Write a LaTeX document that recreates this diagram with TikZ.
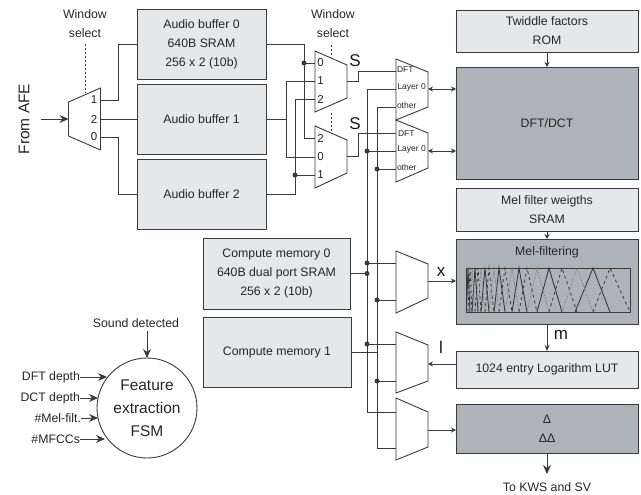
\documentclass[tikz,border=0pt]{standalone}
\usepackage{fontspec}
\setmainfont{Liberation Sans}
\usetikzlibrary{arrows.meta,calc}
\definecolor{lightfill}{HTML}{E6E7EA}
\definecolor{darkfill}{HTML}{AEB3BA}
\definecolor{edge}{HTML}{3A3A3A}
\tikzset{
  base/.style={draw=edge,line width=.9pt,inner sep=0pt,outer sep=0pt,align=center,font=\fontsize{12.3}{19}\selectfont,text=black!85},
  lightbox/.style={base,fill=lightfill},
  darkbox/.style={base,fill=darkfill},
  txt/.style={inner sep=0pt,outer sep=0pt,align=center,font=\fontsize{12.3}{19}\selectfont,text=black!85},
  port/.style={inner sep=0pt,outer sep=0pt,font=\fontsize{8.5}{10}\selectfont,text=black!85,anchor=west},
  sel/.style={inner sep=0pt,outer sep=0pt,font=\fontsize{11.5}{12}\selectfont,text=black!85},
  sig/.style={inner sep=0pt,outer sep=0pt,font=\fontsize{17}{18}\selectfont,text=black!90},
  wire/.style={draw=edge,line width=.9pt},
  muxshape/.style={draw=edge,line width=.9pt,fill=white,line join=miter},
  dotted sel/.style={draw=edge,line width=.9pt,dash pattern=on 2pt off 2pt},
  bigarrow/.style={wire,-{Stealth[length=9pt,width=8pt]}},
  smallarrow/.style={wire,-{Stealth[length=5pt,width=5pt]}},
  bothways/.style={wire,{Stealth[length=5pt,width=5pt]}-{Stealth[length=5pt,width=5pt]}},
  junction/.style={circle,fill=edge,draw=none,minimum size=5pt,inner sep=0pt,outer sep=0pt},
}
\newcommand{\muxat}[7]{% name xl ytl ybl xr ytr ybr
  \draw[muxshape] (#2,#3) -- (#5,#6) -- (#5,#7) -- (#2,#4) -- cycle;
  \coordinate (#1) at ($(#2,#3)!0.5!(#5,#7)$);
}
\begin{document}
\begin{tikzpicture}[x=1pt,y=-1pt]
\useasboundingbox (0,0) rectangle (641,495);

% boxes
\node[lightbox,minimum width=129pt,minimum height=70pt] (buf0) at (201.5,44) {Audio buffer 0\\640B SRAM\\256 x 2 (10b)};
\node[lightbox,minimum width=129pt,minimum height=70pt] (buf1) at (201.5,119) {Audio buffer 1};
\node[lightbox,minimum width=129pt,minimum height=70pt] (buf2) at (201.5,194) {Audio buffer 2};
\node[lightbox,minimum width=147pt,minimum height=71pt] (mem0) at (276.5,273.5) {Compute memory 0\\640B dual port SRAM\\256 x 2 (10b)};
\node[lightbox,minimum width=148pt,minimum height=70pt] (mem1) at (277,352) {Compute memory 1};
\node[lightbox,minimum width=182pt,minimum height=42pt] (twiddle) at (547,31) {Twiddle factors\\ROM};
\node[darkbox,minimum width=182pt,minimum height=112pt] (dft) at (547,123) {DFT/DCT};
\node[lightbox,minimum width=182pt,minimum height=43pt] (melw) at (547,209.5) {Mel filter weigths\\SRAM};
\node[darkbox,minimum width=182pt,minimum height=85pt] (melf) at (547,281.5) {};
\node[txt] (melt) at (547,252) {Mel-filtering};
\node[lightbox,minimum width=182pt,minimum height=37pt] (lut) at (547,369.5) {1024 entry Logarithm LUT};
\node[darkbox,minimum width=182pt,minimum height=49pt] (delta) at (547,428.5) {Δ\\ΔΔ};

% mel filterbank plot
\node[draw=edge,line width=.9pt,minimum width=164pt,minimum height=44pt,inner sep=0pt,outer sep=0pt] (plot) at (548,290) {};
\foreach \a/\b/\c in {593/610/630,549/562/577,519/527/537,499/505/512,485/489/494,475/478/481,468/470/472}
  \draw[edge,line width=.8pt,dash pattern=on 3pt off 3pt] (\a,312) -- (\b,268) -- (\c,312);
\foreach \a/\b/\c in {575/593/610,537/549/562,512/519/527,494/499/505,481/485/489,472/475/478,466.5/468/470}
  \draw[edge,line width=.9pt] (\a,312) -- (\b,268) -- (\c,312);
\foreach \a/\b/\c in {562/577/593,527/537/549,505/512/519,489/494/499,478/481/485,470/472/475}
  \draw[edge!70,line width=.8pt,dash pattern=on 1pt off 1.6pt] (\a,312) -- (\b,268) -- (\c,312);

% port coordinates
\coordinate (afeIn) at (41,119);
\coordinate (m0o1) at (100.5,100);
\coordinate (m0o2) at (100.5,119);
\coordinate (m0o0) at (100.5,137);
\coordinate (sA0) at (315,63);
\coordinate (sA1) at (315,81);
\coordinate (sA2) at (315,99);
\coordinate (sB2) at (315,138);
\coordinate (sB0) at (315,157);
\coordinate (sB1) at (315,175);
\coordinate (sAo) at (347,81);
\coordinate (sBo) at (347,156);
\coordinate (dA0) at (396,71);
\coordinate (dA1) at (396,89);
\coordinate (dA2) at (396,107);
\coordinate (dB0) at (396,133);
\coordinate (dB1) at (396,151);
\coordinate (dB2) at (396,169);
\coordinate (dAo) at (428,89);
\coordinate (dBo) at (428,151);
\coordinate (xA) at (396,263);
\coordinate (xB) at (396,300);
\coordinate (xo) at (428,281);
\coordinate (lA) at (396,344);
\coordinate (lB) at (396,381);
\coordinate (lo) at (428,364);
\coordinate (ddA) at (396,412);
\coordinate (ddB) at (396,448);
\coordinate (ddo) at (428,430);

% wires: input side
\draw[bigarrow] (afeIn) -- (68.5,119);
\draw[wire] (m0o1) -- (118,100) -- (118,44) -- (buf0.west);
\draw[wire] (m0o2) -- (buf1.west);
\draw[wire] (m0o0) -- (118,137) -- (118,194) -- (buf2.west);
\draw[wire] (buf0.east) -- (304,44) -- (304,138) -- (sB2);
\draw[wire] (304,63) -- (sA0);
\draw[wire] (buf1.east) -- (286,119);
\draw[wire] (sA1) -- (286,81) -- (286,157) -- (sB0);
\draw[wire] (buf2.east) -- (295,194) -- (295,99) -- (sA2);
\draw[wire] (295,175) -- (sB1);
\draw[wire] (sAo) -- (358,81) -- (358,71) -- (dA0);
\draw[wire] (sBo) -- (358,156) -- (358,133) -- (dB0);

% bus lines
\draw[wire] (dA1) -- (367,89) -- (367,412) -- (ddA);
\draw[wire] (dA2) -- (377,107) -- (377,448) -- (ddB);
\draw[wire] (367,151) -- (dB1);
\draw[wire] (377,169) -- (dB2);
\draw[wire] (367,263) -- (xA);
\draw[wire] (377,300) -- (xB);
\draw[wire] (367,344) -- (lA);
\draw[wire] (377,381) -- (lB);
\draw[wire] (mem0.east) -- (367,273.5);
\draw[wire] (mem1.east) -- (377,352);

% muxes
\muxat{mux0}{68.5}{102}{136}{100.5}{88}{150}
\muxat{muxA}{315}{51}{112}{347}{65}{98}
\muxat{muxB}{315}{126}{188}{347}{140}{173}
\muxat{muxC}{396}{59}{120}{428}{72}{107}
\muxat{muxD}{396}{120}{182}{428}{133}{168}
\muxat{muxX}{396}{251}{313}{428}{264}{298}
\muxat{muxL}{396}{332}{393}{428}{345}{381}
\muxat{muxDD}{396}{398}{460}{428}{412}{447}

% junctions
\foreach \p in {(304,63),(295,175),(367,151),(377,169),(367,263),(367,273.5),(377,300),(367,344),(377,381)}
  \node[junction] at \p {};

% arrows on right side
\draw[bothways] (dAo) -- (dft.west |- dAo);
\draw[bothways] (dBo) -- (dft.west |- dBo);
\draw[smallarrow] (twiddle) -- (dft);
\draw[smallarrow] (melw) -- (melf);
\draw[smallarrow] (xo) -- (melf.west |- xo);
\draw[wire,-{Stealth[length=6pt,width=5pt]}] (melf) -- (lut);
\draw[smallarrow] (lut.west |- lo) -- (lo);
\draw[smallarrow] (ddo) -- (delta.west |- ddo);
\coordinate (kws) at (547,474);
\draw[bigarrow] (delta) -- (kws);

% window select
\node[txt] (ws1) at (85,23.5) {Window\\select};
\node[txt] (ws2) at (333,23.5) {Window\\select};
\draw[dotted sel] (85,44) -- (85,93);
\draw[dotted sel] (331,45) -- (331,57);
\draw[dotted sel] (331,113) -- (331,133);

% texts
\node[txt,rotate=90,font=\fontsize{15.5}{18}\selectfont] (afe) at (24,119) {From AFE};
\node[txt] (kwst) at (547,487) {To KWS and SV};

\foreach \y/\t in {100/1,119/2,137/0}
  \node[sel] at (94,\y) {\t};
\foreach \y/\t in {63/0,81/1,99/2,138/2,157/0,175/1}
  \node[sel] at (320.5,\y) {\t};

\node[port] at (397,70) {DFT};
\node[port] at (397.5,87) {Layer 0};
\node[port] at (397,105) {other};
\node[port] at (398,134) {DFT};
\node[port] at (397.5,149) {Layer 0};
\node[port] at (397,167) {other};

\node[sig] at (355,61) {S};
\node[sig] at (355,124) {S};
\node[sig] at (441,272) {x};
\node[sig] at (441,347) {l};
\node[sig] at (561,335) {m};

% FSM
\node[draw=edge,line width=.9pt,circle,minimum size=100pt,inner sep=0pt,outer sep=0pt,align=center,
      font=\fontsize{15.5}{23}\selectfont,text=black!85] (fsm) at (147,408) {Feature\\extraction\\FSM};
\node[txt] (sound) at (136,323) {Sound detected};
\coordinate (soundOut) at (147,331);
\draw[bigarrow] (soundOut) -- (fsm.north);
\node[txt,anchor=east] (dftd) at (80,377) {DFT depth};
\node[txt,anchor=east] (dctd) at (80,398) {DCT depth};
\node[txt,anchor=east] (melfl) at (81,418) {\#Mel-filt.};
\node[txt,anchor=east] (mfcc) at (80,439) {\#MFCCs};
\draw[bigarrow] (dftd.east) -- (107,377);
\draw[bigarrow] (dctd.east) -- (98,398);
\draw[bigarrow] (melfl.east) -- (98,418);
\draw[bigarrow] (mfcc.east) -- (105,439);
\end{tikzpicture}
\end{document}
